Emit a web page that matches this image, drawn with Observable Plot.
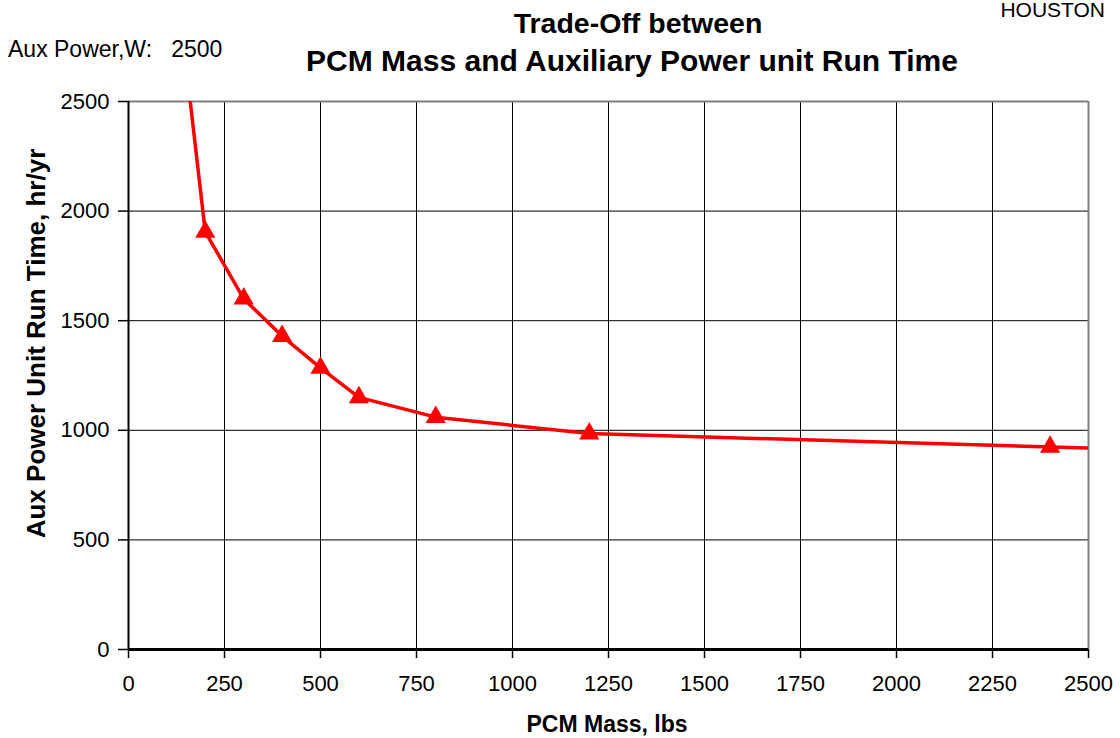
<!DOCTYPE html>
<html>
<head>
<meta charset="utf-8">
<script src="https://cdn.jsdelivr.net/npm/d3@7"></script>
<script src="https://cdn.jsdelivr.net/npm/@observablehq/plot@0.6"></script>
<style>
  html, body { margin: 0; padding: 0; background: #fff; }
  #chart { width: 1120px; height: 738px; overflow: hidden; }
</style>
</head>
<body>
<div id="chart"></div>
<script>
// Marked data points (PCM mass, lbs -> aux power unit run time, hr/yr)
const pcmMass = [200, 300, 400, 500, 600, 800, 1200, 2400];
const runTime = [1905, 1600, 1430, 1285, 1150, 1060, 985, 924];
// Line continues beyond the plot frame at both ends (estimated from its direction)
const lineMass = [100, 200, 300, 400, 500, 600, 800, 1200, 2400, 3600];
const lineTime = [3420, 1905, 1600, 1430, 1285, 1150, 1060, 985, 924, 865];
// Tick labels
const xTicks = [0, 250, 500, 750, 1000, 1250, 1500, 1750, 2000, 2250, 2500];
const yTicks = [0, 500, 1000, 1500, 2000, 2500];

const points = pcmMass.map((m, i) => ({mass: m, time: runTime[i]}));
const linePts = lineMass.map((m, i) => ({mass: m, time: lineTime[i]}));

const FONT = "Liberation Sans, Arial, sans-serif";

const chart = Plot.plot({
  width: 1120,
  height: 738,
  marginTop: 101,
  marginLeft: 128,
  marginRight: 32,
  marginBottom: 89,
  style: {fontFamily: FONT, background: "white", color: "black", overflow: "visible"},
  x: {domain: [0, 2500]},
  y: {domain: [0, 2500]},
  marks: [
    Plot.gridX(xTicks, {stroke: "black", strokeOpacity: 1, strokeWidth: 1}),
    Plot.gridY(yTicks, {stroke: "black", strokeOpacity: 1, strokeWidth: 1}),
    Plot.ruleY([2500], {stroke: "#808080", strokeWidth: 2}),
    Plot.ruleX([2500], {stroke: "#808080", strokeWidth: 2}),
    Plot.axisX({ticks: xTicks, tickSize: 9, tickPadding: 17, fontSize: 22, tickFormat: d => String(d), stroke: "black", strokeWidth: 1.5, label: null}),
    Plot.axisY({ticks: yTicks, tickSize: 10, tickPadding: 9, fontSize: 22, tickFormat: d => String(d), stroke: "black", strokeWidth: 1.5, label: null}),
    Plot.ruleX([0], {stroke: "black", strokeWidth: 2}),
    Plot.ruleY([0], {stroke: "black", strokeWidth: 3}),
    Plot.line(linePts, {x: "mass", y: "time", stroke: "#ff0000", strokeWidth: 3.5, clip: true}),
    Plot.dot(points, {x: "mass", y: "time", symbol: "triangle", r: 7.5, fill: "#ff0000", stroke: "none"})
  ]
});
document.getElementById("chart").appendChild(chart);

const svg = d3.select(chart);
function addText(x, y, txt, size, weight, anchor, rotate) {
  const t = svg.append("text")
    .attr("x", rotate ? 0 : x).attr("y", rotate ? 0 : y)
    .attr("text-anchor", anchor)
    .attr("font-family", FONT)
    .attr("font-size", size)
    .attr("font-weight", weight)
    .attr("fill", "black")
    .text(txt);
  if (rotate) t.attr("transform", `translate(${x},${y}) rotate(-90)`);
  return t;
}
addText(638, 33, "Trade-Off between", 28.5, "bold", "middle");
addText(632, 71, "PCM Mass and Auxiliary Power unit Run Time", 30, "bold", "middle");
addText(8, 56.5, "Aux Power,W:\u00a0\u00a0 2500", 23, "normal", "start");
addText(1105, 16.5, "HOUSTON", 21, "normal", "end");
addText(607, 731.5, "PCM Mass, lbs", 23, "bold", "middle");
addText(45, 343.5, "Aux Power Unit Run Time, hr/yr", 26, "bold", "middle", true);
</script>
</body>
</html>
